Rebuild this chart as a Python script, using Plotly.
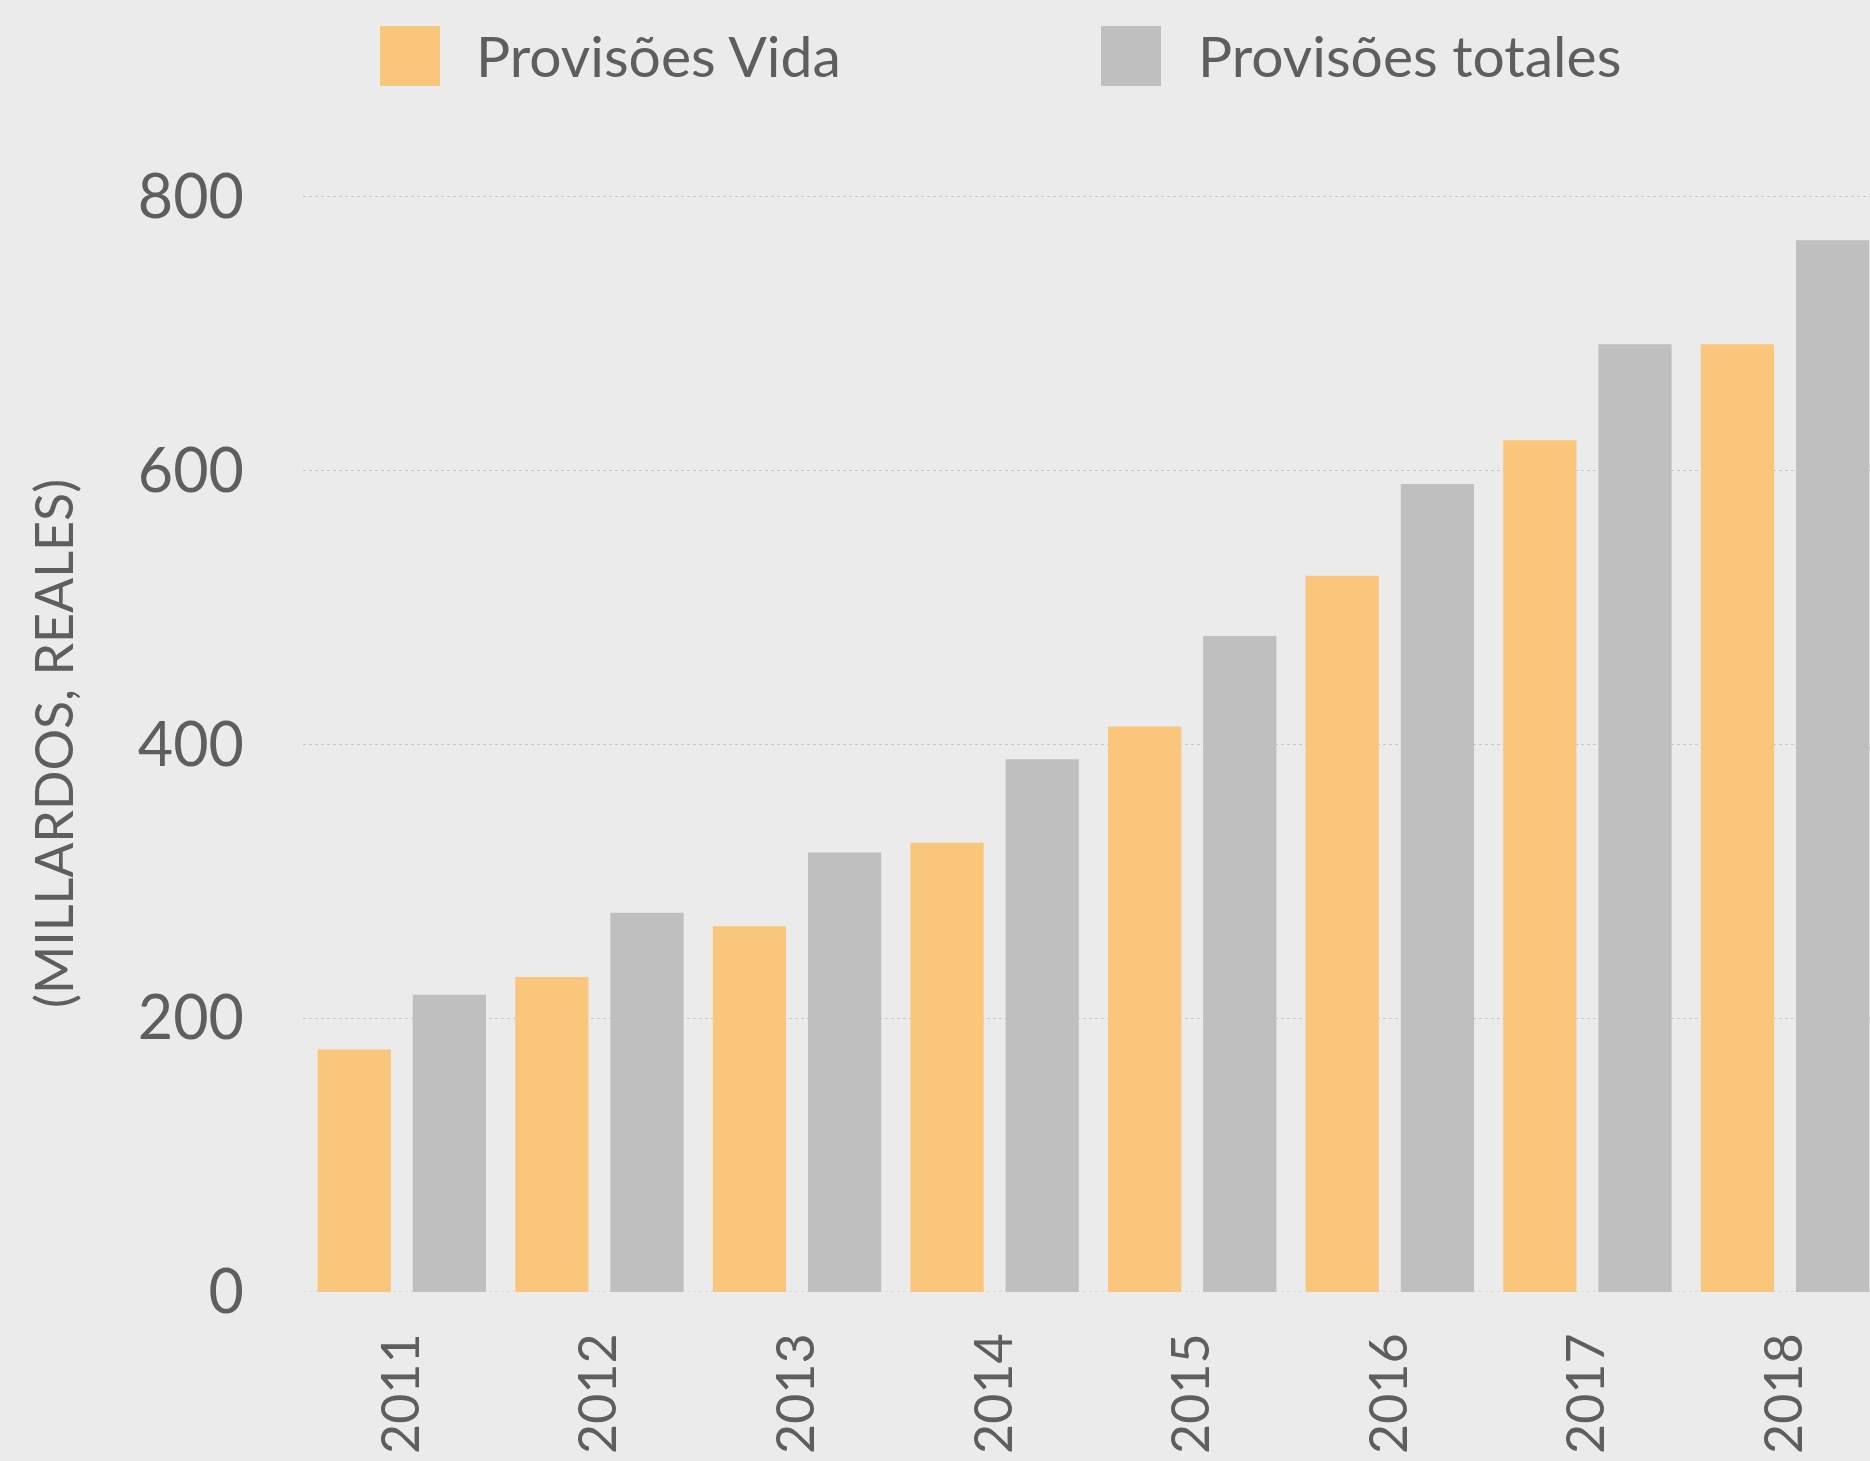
import plotly.graph_objects as go

# data (billions of reais)
years = ["2011", "2012", "2013", "2014", "2015", "2016", "2017", "2018"]
provisoes_vida = [177, 230, 267, 328, 413, 523, 622, 692]
provisoes_totales = [217, 277, 321, 389, 479, 590, 692, 768]
y_ticks = [0, 200, 400, 600, 800]

series_names = ["Provisões Vida", "Provisões totales"]
y_title = "(MILLARDOS, REALES)"

ORANGE = "#fac67b"
GRAY = "#bfbfbf"
BG = "#ebebeb"
TEXT = "#5e5e5e"
GRID = "#c6c6c6"
FONT = "Lato"

W, H = 1870, 1461
M = dict(l=303, r=0, t=128, b=169)
PW = W - M["l"] - M["r"]
PH = H - M["t"] - M["b"]


def px_x(x):
    # pixel -> paper x
    return (x - M["l"]) / PW


def px_y(y):
    # pixel (from top) -> paper y
    return (H - M["b"] - y) / PH


fig = go.Figure()
fig.add_trace(go.Bar(x=years, y=provisoes_vida, name=series_names[0],
                     marker=dict(color=ORANGE, line=dict(width=0))))
fig.add_trace(go.Bar(x=years, y=provisoes_totales, name=series_names[1],
                     marker=dict(color=GRAY, line=dict(width=0))))

# --- custom legend (big squares like the original) ---
legend_items = [
    (series_names[0], ORANGE, 380, 474),
    (series_names[1], GRAY, 1101, 1196),
]
for name, color, sq_left, txt_left in legend_items:
    fig.add_shape(type="rect", xref="paper", yref="paper",
                  x0=px_x(sq_left), x1=px_x(sq_left + 60),
                  y0=px_y(86), y1=px_y(26),
                  fillcolor=color, line=dict(width=0))
    fig.add_annotation(text=name, xref="paper", yref="paper",
                       x=px_x(txt_left), y=px_y(55),
                       xanchor="left", yanchor="middle", showarrow=False,
                       font=dict(family=FONT, size=57, color=TEXT))

# dotted baseline (plotly drops the grid line sitting on the range edge)
fig.add_shape(type="line", xref="paper", yref="y", x0=0, x1=1, y0=0, y1=0,
              line=dict(color=GRID, width=1, dash="dot"), layer="below")

# y axis title
fig.add_annotation(text=y_title, xref="paper", yref="paper",
                   x=px_x(53), y=px_y(744), textangle=-90,
                   xanchor="center", yanchor="middle", showarrow=False,
                   font=dict(family=FONT, size=52, color=TEXT))

fig.update_layout(
    width=W, height=H,
    margin=M,
    paper_bgcolor=BG, plot_bgcolor=BG,
    barmode="group", bargap=0.037, bargroupgap=0.23,
    showlegend=False,
    font=dict(family=FONT, color=TEXT),
)
fig.update_xaxes(
    type="category", range=[-0.5, 7.43],
    showgrid=False, zeroline=False, showline=False, ticks="",
    tickangle=-90, ticklabelstandoff=30, automargin=False,
    tickfont=dict(family=FONT, size=52, color=TEXT),
)
fig.update_yaxes(
    range=[0, 850], tickvals=y_ticks,
    showgrid=True, gridcolor=GRID, gridwidth=1, griddash="dot",
    zeroline=False, showline=False, ticks="",
    ticklabelstandoff=58, automargin=False,
    tickfont=dict(family=FONT, size=61, color=TEXT),
)

fig.write_html(
    "out.html",
    config={"displayModeBar": False},
    post_script="document.body.style.margin='0';document.body.style.overflow='hidden';",
)
